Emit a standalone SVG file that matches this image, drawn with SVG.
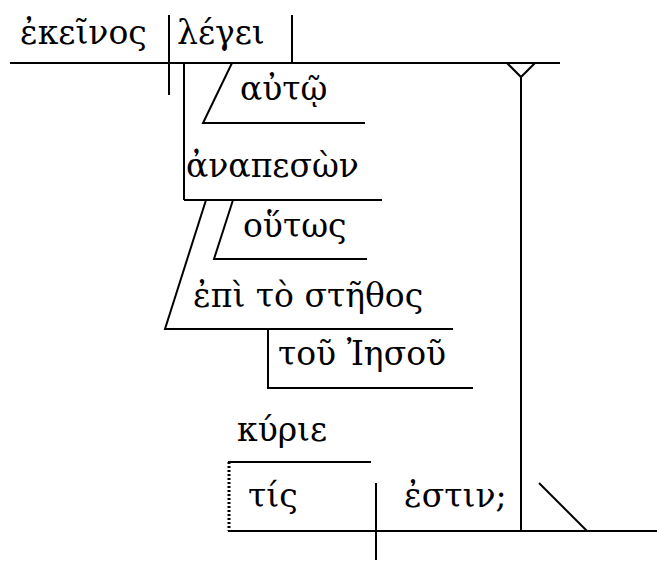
<svg xmlns="http://www.w3.org/2000/svg" width="657" height="561" viewBox="0 0 657 561">
<style>
.l{stroke:#000;stroke-width:2;fill:none}
.d{stroke:#000;stroke-width:3;stroke-dasharray:2,2;fill:none}
text{font-family:"DejaVu Serif","Noto Sans",serif;font-size:33px;fill:#000}
</style>
<rect width="657" height="561" fill="#fff"/>
<g id="connectors">
<line class="l" x1="10" y1="63" x2="560" y2="63"/>
<line class="l" x1="169" y1="15" x2="169" y2="95"/>
<line class="l" x1="292" y1="15" x2="292" y2="63"/>
<line class="l" x1="184" y1="63" x2="184" y2="200"/>
<line class="l" x1="184" y1="200" x2="382" y2="200"/>
<polyline class="l" points="232,63 203,123 365,123"/>
<polyline class="l" points="233,200 214,259 367,259"/>
<polyline class="l" points="206,200 165,329 453,329"/>
<polyline class="l" points="268,329 268,388 473,388"/>
<polyline class="l" points="507,63 521,77 535,63"/>
<line class="l" x1="521" y1="77" x2="521" y2="531"/>
<line class="l" x1="228" y1="462" x2="371" y2="462"/>
<line class="d" x1="229" y1="462" x2="229" y2="531"/>
<line class="l" x1="228" y1="531" x2="657" y2="531"/>
<line class="l" x1="376" y1="483" x2="376" y2="560"/>
<line class="l" x1="539" y1="483" x2="587" y2="531"/>
</g>
<g id="n1"><text x="20" y="44">ἐκεῖνος</text></g>
<g id="n2"><text x="177" y="44">λέγει</text></g>
<g id="n3"><text x="240" y="100">αὐτῷ</text></g>
<g id="n4"><text x="186" y="177">ἀναπεσὼν</text></g>
<g id="n5"><text x="243" y="237">οὕτως</text></g>
<g id="n6"><text x="193" y="307">ἐπὶ τὸ στῆθος</text></g>
<g id="n7"><text x="278" y="365">τοῦ Ἰησοῦ</text></g>
<g id="n8"><text x="237" y="441">κύριε</text></g>
<g id="n9"><text x="248" y="507">τίς</text></g>
<g id="n10"><text x="404" y="507">ἐστιν;</text></g>
</svg>
